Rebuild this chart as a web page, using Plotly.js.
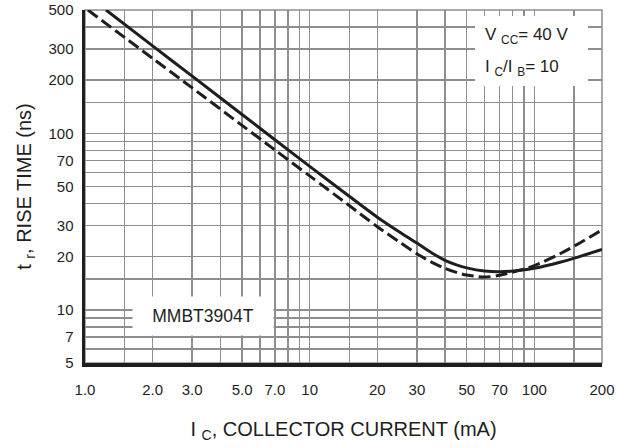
<!DOCTYPE html>
<html>
<head>
<meta charset="utf-8">
<script src="https://cdn.plot.ly/plotly-3.0.1.min.js"></script>
<style>
  html, body { margin: 0; padding: 0; background: #ffffff; }
  #chart { width: 617px; height: 448px; }
</style>
</head>
<body>
<div id="chart"></div>
<script>
// Rise time vs collector current, MMBT3904T (VCC = 40 V, IC/IB = 10)

// Solid curve
const solidCurrent = [1.24, 2, 3, 5, 7, 10, 15, 20, 25, 30, 35, 40, 45, 50, 60, 70, 85, 100, 130, 160, 200];
const solidRise    = [500, 313, 211, 128, 92, 65, 44, 33.5, 27.7, 23.9, 21.0, 19.1, 18.0, 17.3, 16.6, 16.45, 16.7, 17.2, 18.6, 20.1, 22.0];

// Dashed curve
const dashedCurrent = [1.03, 2, 3, 5, 7, 10, 15, 20, 25, 30, 35, 40, 45, 50, 60, 70, 85, 100, 130, 160, 200];
const dashedRise    = [500, 266, 181, 111, 80.6, 57.4, 39, 29.6, 24.3, 20.8, 18.6, 17.2, 16.3, 15.75, 15.35, 15.7, 16.7, 17.8, 20.8, 24.0, 28.4];

// Labelled ticks and the extra grid lines between them
const currentTickV = [1, 2, 3, 5, 7, 10, 20, 30, 50, 70, 100, 200];
const currentTickT = ['1.0', '2.0', '3.0', '5.0', '7.0', '10', '20', '30', '50', '70', '100', '200'];
const currentMinor = [1.5, 4, 6, 8, 9, 15, 40, 60, 80, 90, 150];

const riseTickV = [5, 7, 10, 20, 30, 50, 70, 100, 200, 300, 500];
const riseTickT = ['5', '7', '10', '20', '30', '50', '70', '100', '200', '300', '500'];
const riseMinor = [6, 8, 9, 15, 40, 60, 80, 90, 150, 400];

const FONT = '"Liberation Sans", Arial, Helvetica, sans-serif';
const INK = '#1e1e1e';
const GRID = '#8e8e8e';

const traces = [
  {
    x: solidCurrent, y: solidRise,
    type: 'scatter', mode: 'lines',
    line: { color: INK, width: 3, shape: 'spline', smoothing: 0.8 },
    hoverinfo: 'skip', showlegend: false
  },
  {
    x: dashedCurrent, y: dashedRise,
    type: 'scatter', mode: 'lines',
    line: { color: INK, width: 3, dash: '12px,5px', shape: 'spline', smoothing: 0.8 },
    hoverinfo: 'skip', showlegend: false
  }
];

function gridAxis(range, vals, texts, minorVals, title, standoff, labelGap) {
  return {
    type: 'log',
    range: range,
    tickmode: 'array',
    tickvals: vals,
    ticktext: texts,
    ticks: '',
    ticklabelstandoff: labelGap,
    tickfont: { family: FONT, size: 15, color: INK },
    showgrid: true, gridcolor: GRID, gridwidth: 1.5,
    minor: { tickmode: 'array', tickvals: minorVals, ticks: '',
             showgrid: true, gridcolor: GRID, gridwidth: 1.5 },
    zeroline: false,
    showline: true, linecolor: INK, linewidth: 3.5, mirror: false,
    title: { text: title, font: { family: FONT, size: 20, color: INK }, standoff: standoff }
  };
}

const layout = {
  width: 617, height: 448,
  margin: { l: 85, r: 15, t: 10, b: 85 },
  paper_bgcolor: '#ffffff',
  plot_bgcolor: '#ffffff',
  font: { family: FONT, color: INK, size: 15 },
  showlegend: false,
  xaxis: gridAxis([Math.log10(1), Math.log10(200)], currentTickV, currentTickT, currentMinor,
                  'I <sub>C</sub>, COLLECTOR CURRENT (mA)', 26, 10),
  yaxis: gridAxis([Math.log10(5), Math.log10(500)], riseTickV, riseTickT, riseMinor,
                  't <sub>r</sub>, RISE TIME (ns)', 12, 5),
  shapes: [
    // thin frame on the top and right
    { type: 'rect', xref: 'paper', yref: 'paper', x0: 0, x1: 1, y0: 0, y1: 1,
      line: { color: GRID, width: 1.5 }, layer: 'below' },
    // white panel behind the test conditions
    { type: 'rect', xref: 'paper', yref: 'paper', x0: 0.7544, x1: 0.9729, y0: 0.7847, y1: 0.983,
      fillcolor: '#ffffff', line: { width: 0 }, layer: 'above' }
  ],
  annotations: [
    { xref: 'paper', yref: 'paper', x: 0.2282, y: 0.1331,
      text: 'MMBT3904T', showarrow: false,
      width: 140, height: 38, bgcolor: '#ffffff', borderpad: 0,
      xanchor: 'center', yanchor: 'middle',
      font: { family: FONT, size: 17.5, color: INK } },
    { xref: 'paper', yref: 'paper', x: 0.7698, y: 0.925,
      text: 'V <sub>CC</sub>= 40 V', showarrow: false,
      xanchor: 'left', yanchor: 'middle',
      font: { family: FONT, size: 17, color: INK } },
    { xref: 'paper', yref: 'paper', x: 0.7698, y: 0.837,
      text: 'I <sub>C</sub>/I <sub>B</sub>= 10', showarrow: false,
      xanchor: 'left', yanchor: 'middle',
      font: { family: FONT, size: 17, color: INK } }
  ]
};

Plotly.newPlot('chart', traces, layout, { staticPlot: true, displayModeBar: false });
</script>
</body>
</html>
